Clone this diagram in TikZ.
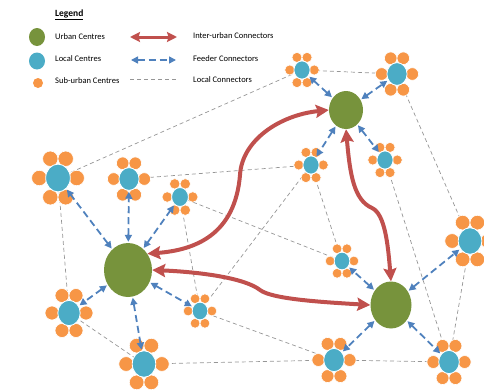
\documentclass[tikz,border=0pt]{standalone}
\usepackage{fontspec}
\setmainfont{Carlito}
\definecolor{urbangreen}{RGB}{119, 147, 60}
\definecolor{localblue}{RGB}{75, 172, 198}
\definecolor{suborange}{RGB}{247, 150, 70}
\definecolor{interred}{RGB}{192, 80, 77}
\definecolor{feedblue}{RGB}{79, 129, 189}
\definecolor{conngray}{RGB}{150, 150, 150}
\usetikzlibrary{shapes.geometric, arrows.meta, backgrounds}

\begin{document}
\begin{tikzpicture}[x=1pt, y=-1pt,
  urban/.style={ellipse, fill=urbangreen, inner sep=0pt},
  local/.style={ellipse, fill=localblue, draw=white, line width=0.8pt, inner sep=0pt},
  petal/.style={fill=suborange, draw=white, line width=0.6pt},
  interurban/.style={draw=interred, line width=4pt,
    {Stealth[inset=2pt, width=13pt, length=13pt]}-{Stealth[inset=2pt, width=13pt, length=13pt]}},
  feeder/.style={draw=feedblue, line width=1.8pt, dash pattern=on 7pt off 4pt,
    {Triangle[width=7pt, length=7pt]}-{Triangle[width=7pt, length=7pt]}, shorten <=1pt, shorten >=1pt},
  localconn/.style={draw=conngray, line width=0.7pt, dash pattern=on 4pt off 3pt},
  legendtext/.style={anchor=west, inner sep=0pt, font=\fontsize{8.5}{10}\selectfont}]
  \useasboundingbox (0, 0) rectangle (484, 391);

  % Legend
  \node[anchor=west, inner sep=0pt, font=\fontsize{9.5}{11}\selectfont\bfseries] (legendtitle) at (55, 15) {\underline{Legend}};
  \node[urban, minimum width=16pt, minimum height=18pt] (keyurban) at (37, 37) {};
  \node[local, draw=none, minimum width=16pt, minimum height=17pt] (keylocal) at (37, 61) {};
  \node[circle, fill=suborange, inner sep=0pt, minimum size=10pt] (keysub) at (38, 83) {};
  \node[legendtext] (txturban) at (55, 36.5) {Urban Centres};
  \node[legendtext] (txtlocal) at (55, 59) {Local Centres};
  \node[legendtext] (txtsub) at (55, 81) {Sub-urban Centres};
  \coordinate (keyinterA) at (130, 37);
  \coordinate (keyinterB) at (177, 37);
  \coordinate (keyfeedA) at (130, 60);
  \coordinate (keyfeedB) at (177, 60);
  \coordinate (keylocA) at (130, 79);
  \coordinate (keylocB) at (176, 79);
  \draw[interurban, line width=3pt, {Stealth[inset=1.5pt, width=10pt, length=10pt]}-{Stealth[inset=1.5pt, width=10pt, length=10pt]}] (keyinterA) -- (keyinterB);
  \draw[feeder, line width=1.5pt] (keyfeedA) -- (keyfeedB);
  \draw[localconn] (keylocA) -- (keylocB);
  \node[legendtext] (txtinter) at (193, 36) {Inter-urban Connectors};
  \node[legendtext] (txtfeed) at (193, 59) {Feeder Connectors};
  \node[legendtext] (txtloc) at (193, 80) {Local Connectors};

  % Local centres with their ring of sub-urban centres
  \foreach \n/\x/\y/\s in {1/58/178/1.1, 2/129/179/0.9, 3/180/197/0.75, 4/69/313/1.0,
      5/200/311/0.7, 6/144/364/1.05, 7/302/70/0.72, 8/397/74/0.9, 9/311/165/0.72,
      10/385/160/0.72, 11/470/241/1.05, 12/342/261/0.7, 13/334/360/0.92, 14/449/362/0.92} {
    \foreach \dx/\dy in {-7/-17.5, 7/-17.5, -17/0, 17/0, -7/17.5, 7/17.5}
      \path[petal] ({\x+\s*(\dx)}, {\y+\s*(\dy)}) circle[radius=\s*7pt];
    \node[local, minimum width=\s*22.4pt, minimum height=\s*25.2pt] (lc\n) at (\x, \y) {};
  }

  % Urban centres
  \node[urban, minimum width=34pt, minimum height=38pt] (uc1) at (346, 110) {};
  \node[urban, minimum width=48pt, minimum height=54pt] (uc2) at (128, 270) {};
  \node[urban, minimum width=41pt, minimum height=47pt] (uc3) at (391, 305) {};

  % Local connectors
  \begin{scope}[on background layer]
    \foreach \a/\b in {1/7, 1/4, 2/9, 3/12, 3/5, 9/5, 9/12, 4/6, 6/13, 5/13, 13/14, 14/11, 8/11, 7/8, 10/14}
      \draw[localconn] (lc\a.center) -- (lc\b.center);
  \end{scope}

  % Feeder connectors
  \foreach \u/\l in {2/1, 2/2, 2/3, 2/4, 2/5, 2/6, 1/7, 1/8, 1/9, 1/10, 3/11, 3/12, 3/13, 3/14}
    \draw[feeder] (uc\u) -- (lc\l);

  % Inter-urban connectors
  \draw[interurban] (uc2.40) .. controls (195, 250) and (235, 235) .. (240, 175)
    .. controls (242, 140) and (280, 115) .. (uc1.west);
  \draw[interurban] (uc1.south) .. controls (350, 175) and (354, 200) .. (372, 208)
    .. controls (385, 214) and (388, 245) .. (uc3.north);
  \draw[interurban] (uc2.east) .. controls (200, 272) and (245, 278) .. (260, 290)
    .. controls (272, 299) and (320, 302) .. (uc3.west);
\end{tikzpicture}
\end{document}
